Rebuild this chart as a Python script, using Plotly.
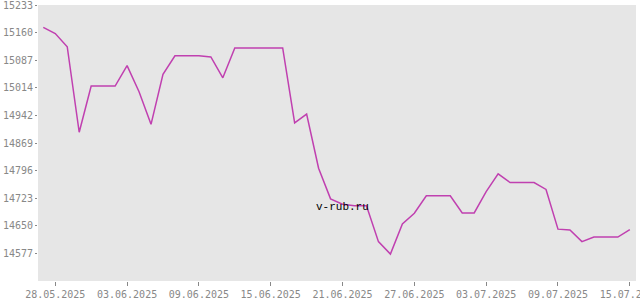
import plotly.graph_objects as go
import pandas as pd

dates = pd.date_range("2025-05-27", "2025-07-15", freq="D")
values = [15174, 15158, 15123, 14897, 15019, 15019, 15019, 15073, 15004, 14918,
          15050, 15099, 15099, 15099, 15096, 15041, 15120, 15120, 15120, 15120,
          15120, 14922, 14945, 14802, 14721, 14707, 14703, 14703, 14608, 14575,
          14655, 14683, 14729, 14729, 14729, 14684, 14684, 14740, 14787, 14764,
          14764, 14764, 14746, 14641, 14639, 14608, 14620, 14620, 14620, 14640]

y_ticks = [14577, 14650, 14723, 14796, 14869, 14942, 15014, 15087, 15160, 15233]
y_min, y_max = 14504, 15233
x_ticks = ["2025-05-28", "2025-06-03", "2025-06-09", "2025-06-15", "2025-06-21",
           "2025-06-27", "2025-07-03", "2025-07-09", "2025-07-15"]

step = (y_max - y_min) / 10
tickpos = [y_min + step * (i + 1) for i in range(len(y_ticks))]
tickpos[-1] = y_max

fig = go.Figure()
fig.add_trace(go.Scatter(x=dates, y=values, mode="lines",
                         line=dict(color="#c040b0", width=1.5),
                         hoverinfo="skip"))

fig.add_annotation(x=dates[25], y=14700, text="v-rub.ru",
                   showarrow=False, xref="x", yref="y",
                   font=dict(family="Liberation Mono", size=11, color="#000000"))

fig.update_layout(
    width=640, height=300,
    margin=dict(l=38, r=4, t=5, b=19),
    paper_bgcolor="#ffffff", plot_bgcolor="#e6e6e6",
    showlegend=False,
    font=dict(family="DejaVu Sans Mono", size=10, color="#888888"),
)
fig.update_xaxes(
    range=[pd.Timestamp("2025-05-26 13:24"), pd.Timestamp("2025-07-15 12:25")],
    tickvals=[pd.Timestamp(t) for t in x_ticks],
    ticktext=[pd.Timestamp(t).strftime("%d.%m.%Y") for t in x_ticks],
    ticks="outside", ticklen=4, tickcolor="#888888", tickwidth=1,
    showgrid=False, zeroline=False, showline=False, automargin=False,
    ticklabeloverflow="allow",
    tickfont=dict(family="DejaVu Sans Mono", size=10, color="#888888"),
)
fig.update_yaxes(
    range=[y_min, y_max + 0.3],
    tickvals=tickpos, ticktext=[str(v) for v in y_ticks],
    ticks="outside", ticklen=2, tickcolor="#888888", tickwidth=1,
    showgrid=False, zeroline=False, showline=False, automargin=False,
    ticklabeloverflow="allow",
    tickfont=dict(family="DejaVu Sans Mono", size=10, color="#888888"),
)

fig.write_html("out.html")
